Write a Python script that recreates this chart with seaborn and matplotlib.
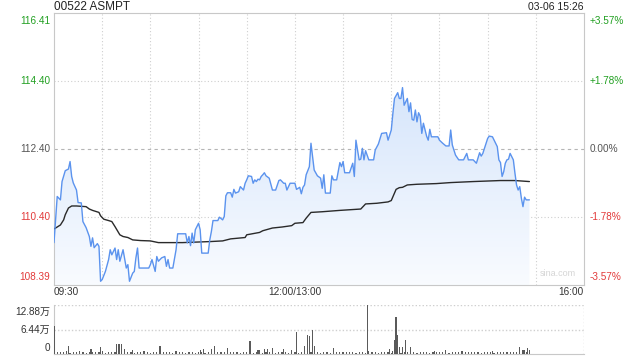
import numpy as np
import pandas as pd
import matplotlib
matplotlib.use("Agg")
import matplotlib.pyplot as plt
import matplotlib.transforms as mtransforms
from matplotlib.patches import Polygon
import seaborn as sns

# ---------------- data ----------------
title = "00522 ASMPT"
stamp = "03-06 15:26"
prev_close = 112.40
price_ticks = [116.41, 114.40, 112.40, 110.40, 108.39]
pct_ticks = ["+3.57%", "+1.78%", "0.00%", "-1.78%", "-3.57%"]
time_ticks = [0, 150, 330]
time_labels = ["09:30", "12:00/13:00", "16:00"]
vol_ticks = [12.88, 6.44, 0]
vol_labels = ["12.88万", "6.44万", "0"]

price_t = [0, 2, 4, 5, 7, 9, 10, 11, 12, 14, 15, 17, 18, 20, 22, 23, 24, 25, 27, 28,
           29, 30, 32, 34, 35, 36, 38, 39, 40, 41, 43, 45, 46, 47, 49, 50, 51, 52, 53, 59,
           60, 61, 63, 64, 65, 67, 69, 70, 71, 72, 74, 76, 77, 82, 83, 84, 85, 86, 87, 88,
           90, 91, 92, 96, 97, 98, 99, 102, 103, 105, 106, 107, 108, 110, 111, 112, 113, 115, 116, 118,
           119, 120, 121, 123, 124, 125, 126, 127, 128, 129, 130, 131, 132, 134, 136, 138, 140, 141, 143, 144,
           145, 147, 150, 151, 153, 154, 155, 156, 157, 159, 160, 161, 162, 164, 166, 167, 168, 169, 172, 173,
           174, 176, 178, 179, 180, 181, 184, 186, 187, 188, 190, 191, 192, 193, 194, 196, 199, 200, 202, 204,
           207, 208, 210, 211, 212, 214, 215, 216, 217, 218, 220, 221, 222, 223, 224, 225, 226, 227, 228, 229,
           230, 232, 233, 234, 235, 239, 240, 242, 244, 246, 247, 248, 250, 252, 255, 257, 258, 261, 263, 265,
           266, 267, 268, 270, 271, 273, 275, 276, 277, 278, 279, 280, 281, 282, 283, 284, 286, 287, 288, 289,
           290, 291, 292, 293, 294, 296]
price_v = [109.64, 111.00, 110.90, 111.44, 111.76, 111.81, 112.03, 111.59, 111.40, 111.19, 110.82, 110.81, 110.26, 110.08, 109.82, 109.53, 109.78, 109.49, 109.61, 109.53,
           108.50, 108.55, 108.79, 109.14, 109.43, 109.28, 109.48, 109.14, 109.43, 109.09, 109.43, 108.89, 108.99, 108.50, 108.74, 108.79, 109.19, 109.48, 108.89, 108.89,
           108.99, 109.14, 108.79, 109.23, 109.09, 109.19, 109.23, 108.94, 109.14, 108.89, 108.89, 109.43, 109.90, 109.90, 109.63, 109.82, 109.55, 109.92, 109.63, 110.02,
           110.21, 110.02, 109.33, 109.33, 109.72, 109.97, 110.29, 110.29, 110.39, 110.31, 110.41, 111.02, 111.11, 111.11, 110.98, 111.21, 111.10, 111.14, 111.29, 111.19,
           111.39, 111.49, 111.61, 111.59, 111.39, 111.49, 111.44, 111.51, 111.49, 111.59, 111.64, 111.70, 111.61, 111.54, 111.19, 111.19, 111.47, 111.49, 111.39, 111.39,
           111.19, 111.39, 111.39, 111.21, 111.27, 111.08, 111.27, 111.34, 111.64, 111.88, 112.57, 112.17, 111.78, 111.61, 111.54, 111.24, 111.64, 111.10, 111.10, 111.61,
           111.49, 111.49, 112.00, 111.88, 112.03, 111.70, 111.70, 111.98, 111.59, 112.66, 112.08, 112.10, 112.42, 112.08, 112.35, 112.08, 112.08, 112.37, 112.55, 112.86,
           112.88, 112.66, 112.96, 113.45, 113.89, 114.06, 113.89, 113.89, 114.21, 113.69, 113.89, 113.50, 113.76, 113.27, 113.25, 113.55, 113.20, 113.47, 113.37, 112.86,
           113.16, 112.78, 112.66, 112.98, 112.76, 112.76, 112.66, 112.57, 112.49, 112.49, 112.96, 112.52, 112.22, 112.08, 112.08, 112.27, 112.08, 112.08, 111.98, 112.29,
           112.19, 112.27, 112.42, 112.71, 112.78, 112.76, 112.57, 112.47, 112.08, 112.00, 111.59, 111.73, 111.98, 112.08, 112.10, 112.27, 112.08, 111.69, 111.34, 111.19,
           111.29, 110.95, 110.70, 110.98, 110.90, 110.90]

avg_t = [0, 4, 6, 7, 9, 11, 14, 20, 22, 24, 28, 29, 31, 34, 36, 38, 41, 43, 46, 49,
         54, 60, 65, 80, 97, 105, 110, 119, 120, 128, 130, 136, 142, 148, 150, 155, 157, 160, 167, 178,
         191, 194, 201, 208, 210, 212, 213, 215, 217, 220, 226, 238, 247, 261, 278, 287, 296]
avg_v = [110.04, 110.16, 110.31, 110.46, 110.66, 110.72, 110.72, 110.70, 110.63, 110.59, 110.53, 110.43, 110.33, 110.29, 110.26, 110.11, 109.87, 109.82, 109.79, 109.72,
         109.70, 109.69, 109.64, 109.64, 109.67, 109.69, 109.75, 109.79, 109.87, 109.94, 109.99, 110.07, 110.10, 110.14, 110.21, 110.23, 110.36, 110.53, 110.55, 110.59,
         110.63, 110.78, 110.80, 110.84, 110.88, 111.10, 111.21, 111.26, 111.27, 111.34, 111.36, 111.38, 111.41, 111.44, 111.47, 111.47, 111.44]

# volume (万): notable bars
vol_t = [0, 9, 23, 29, 39, 40, 41, 42, 44, 49, 66, 76, 91, 93, 98, 100, 108, 122, 127, 128,
         131, 133, 136, 143, 148, 151, 154, 156, 158, 159, 161, 162, 174, 180, 195, 196, 209, 211, 212, 213,
         214, 215, 217, 219, 222, 237, 244, 252, 273, 290, 292, 293, 295, 296]
vol_v = [7.25, 2.1, 1.3, 1.8, 2.5, 2.6, 2.5, 2.5, 1.4, 1.1, 2.2, 0.9, 1.1, 1.4, 1.3, 2.0, 1.6, 3.5, 1.0, 1.1,
         1.2, 1.3, 1.5, 1.3, 1.1, 5.9, 0.5, 2.2, 5.1, 4.8, 6.4, 2.2, 1.6, 0.6, 12.88, 0.8, 1.3, 0.9, 3.8, 9.8,
         4.9, 1.8, 1.9, 3.8, 1.9, 0.9, 1.1, 0.6, 0.9, 1.9, 1.1, 1.0, 1.6, 1.1]
# small background bars, every other minute
small_t = list(range(2, 297, 2))
small_v = [0.6, 0.4, 0.5, 0.7, 0.3, 0.5, 0.4, 0.8, 0.5, 0.3,
           0.4, 0.6, 0.5, 0.4, 0.7, 0.3, 0.5, 0.6, 0.4, 0.5,
           0.3, 0.4, 0.6, 0.5, 0.3, 0.4, 0.5, 0.7, 0.4, 0.3,
           0.5, 0.4, 0.3, 0.6, 0.4, 0.5, 0.3, 0.4, 0.5, 0.6,
           0.3, 0.4, 0.5, 0.3, 0.4, 0.6, 0.3, 0.5, 0.4, 0.3,
           0.5, 0.4, 0.6, 0.3, 0.4, 0.5, 0.4, 0.3, 0.6, 0.4,
           0.5, 0.3, 0.4, 0.5, 0.3, 0.6, 0.4, 0.5, 0.3, 0.4,
           0.4, 0.5, 0.3, 0.4, 0.6, 0.3, 0.5, 0.4, 0.3, 0.5,
           0.6, 0.4, 0.3, 0.5, 0.4, 0.3, 0.6, 0.5, 0.4, 0.3,
           0.5, 0.4, 0.6, 0.3, 0.4, 0.5, 0.3, 0.4, 0.6, 0.5,
           0.3, 0.4, 0.5, 0.6, 0.3, 0.4, 0.5, 0.3, 0.4, 0.6,
           0.5, 0.4, 0.3, 0.5, 0.6, 0.4, 0.3, 0.5, 0.4, 0.6,
           0.4, 0.5, 0.3, 0.6, 0.4, 0.5, 0.7, 0.4, 0.5, 0.6,
           0.4, 0.5, 0.3, 0.6, 0.4, 0.5, 0.3, 0.4, 0.5, 0.6,
           0.5, 0.4, 0.6, 0.5, 0.7, 0.4, 0.6, 0.5]

# ---------------- style ----------------
sns.set_theme(style="white")
plt.rcParams["font.family"] = ["Liberation Sans", "Noto Sans CJK SC", "DejaVu Sans"]

GREEN = "#22a022"
RED = "#e23a3a"
GRAY = "#555555"
GRID = "#cfcfcf"
SPINE = "#c8c8c8"
BLUE = "#5b93ee"
FS = 7.2

W, H = 640, 360
fig = plt.figure(figsize=(6.4, 3.6), dpi=100)
fig.patch.set_facecolor("white")
ax = fig.add_axes([54 / W, 1 - 285 / H, 530 / W, 272 / H])
axv = fig.add_axes([54 / W, 1 - 354 / H, 530 / W, 49 / H])


def off(base, dx_px=0, dy_px=0):
    return base + mtransforms.ScaledTranslation(dx_px / 100, dy_px / 100, fig.dpi_scale_trans)


xmax = 330
ymin, ymax = price_ticks[-1], price_ticks[0]

df_p = pd.DataFrame({"t": price_t, "price": price_v})
df_a = pd.DataFrame({"t": avg_t, "avg": avg_v})

# gradient fill under price line
verts = list(zip(price_t, price_v)) + [(price_t[-1], ymin), (price_t[0], ymin)]
clip = Polygon(verts, closed=True, facecolor="none", edgecolor="none")
ax.add_patch(clip)
n = 256
top_c = np.array([0.84, 0.90, 0.985])
bot_c = np.array([0.975, 0.985, 1.0])
frac = np.linspace(0, 1, n).reshape(-1, 1)
img = (top_c * (1 - frac) + bot_c * frac).reshape(n, 1, 3)
im = ax.imshow(img, extent=[price_t[0], price_t[-1], ymin, max(price_v)],
               aspect="auto", origin="upper", zorder=1, interpolation="bilinear")
im.set_clip_path(clip)

# grid
for k in range(1, 11):
    ax.axvline(30 * k, color=GRID, lw=0.8, ls=(0, (1, 2)), zorder=0.5)
for v in price_ticks[1:-1]:
    if v == prev_close:
        ax.axhline(v, color="#b5b5b5", lw=0.8, ls=(0, (3, 3)), zorder=0.5)
    else:
        ax.axhline(v, color=GRID, lw=0.8, ls=(0, (1, 2)), zorder=0.5)

sns.lineplot(data=df_a, x="t", y="avg", ax=ax, color="#2a2a2a", lw=1.0, zorder=3)
sns.lineplot(data=df_p, x="t", y="price", ax=ax, color=BLUE, lw=1.0, zorder=4)

ax.set_xlim(0, xmax)
ax.set_ylim(ymin, ymax)
ax.set_xticks([])
ax.set_yticks([])
ax.set_xlabel("")
ax.set_ylabel("")
for s in ax.spines.values():
    s.set_color(SPINE)
    s.set_linewidth(0.8)

# left / right labels
ytr = ax.get_yaxis_transform()
n_t = len(price_ticks)
for i, (v, pl) in enumerate(zip(price_ticks, pct_ticks)):
    if v > prev_close:
        c = GREEN
    elif v < prev_close:
        c = RED
    else:
        c = GRAY
    if i == 0:
        va, dy = "top", -3
    elif i == n_t - 1:
        va, dy = "bottom", 3
    else:
        va, dy = "center", 0
    ax.text(0, v, f"{v:.2f}", transform=off(ytr, -4, dy), ha="right", va=va,
            fontsize=FS, color=c)
    ax.text(1, v, pl, transform=off(ytr, 6, dy), ha="left", va=va,
            fontsize=FS, color=c)

# time labels
xtr = ax.get_xaxis_transform()
for t, lab, ha in zip(time_ticks, time_labels, ["left", "center", "right"]):
    ax.text(t, 0, lab, transform=off(xtr, 0, -7), ha=ha, va="center",
            fontsize=FS, color="#333333")

# title and stamp
ax.text(0, 1, title, transform=off(ax.transAxes, 0, 6.5), ha="left", va="center",
        fontsize=8.5, color="#222222")
ax.text(1, 1, stamp, transform=off(ax.transAxes, 0, 6.5), ha="right", va="center",
        fontsize=7.5, color="#222222")
ax.text(0.985, 0.025, "sina.com", transform=ax.transAxes, ha="right", va="bottom",
        fontsize=6.5, color="#d5d5d5")

# volume
axv.bar(small_t, small_v, width=0.75, color="#5a5a5a", linewidth=0, zorder=2)
axv.bar(vol_t, vol_v, width=0.75, color="#5a5a5a", linewidth=0, zorder=3)
axv.set_xlim(0, xmax)
axv.set_ylim(0, vol_ticks[0])
axv.set_xticks([])
axv.set_yticks([])
for k in ["top", "right"]:
    axv.spines[k].set_visible(False)
for k in ["left", "bottom"]:
    axv.spines[k].set_color(SPINE)
    axv.spines[k].set_linewidth(0.8)
axv.axhline(vol_ticks[0], color=GRID, lw=1.0, ls=(0, (1, 1.5)), zorder=1)
axv.axhline(vol_ticks[1], color=GRID, lw=1.0, ls=(0, (1, 1.5)), zorder=1)
axv.axvline(xmax, color=GRID, lw=1.0, ls=(0, (1, 1.5)), zorder=1)

vtr = axv.get_yaxis_transform()
for i, (v, lab) in enumerate(zip(vol_ticks, vol_labels)):
    if i == 0:
        va, dy = "top", -2
    elif i == len(vol_ticks) - 1:
        va, dy = "bottom", 1
    else:
        va, dy = "center", 0
    axv.text(0, v, lab, transform=off(vtr, -4, dy), ha="right", va=va,
             fontsize=FS, color="#333333")

fig.savefig("out.png", dpi=100, facecolor="white")
